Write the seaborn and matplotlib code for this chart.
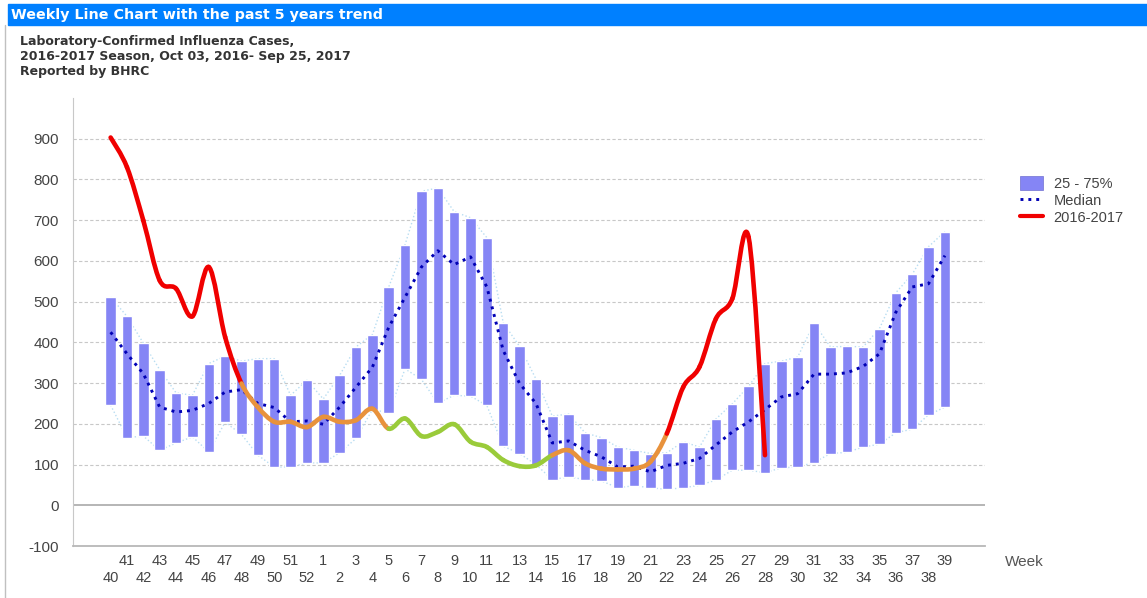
import numpy as np
import matplotlib
matplotlib.use("Agg")
import matplotlib.pyplot as plt
import seaborn as sns
from matplotlib.path import Path
from matplotlib.patches import PathPatch, Patch, Rectangle
from matplotlib.lines import Line2D

# weeks of the 2016-2017 season
weeks = list(range(40, 53)) + list(range(1, 40))

# 25% / 75% of the past 5 seasons
q25 = [246, 166, 170, 135, 153, 168, 131, 204, 174, 123, 94, 94, 104,
       104, 129, 164, 235, 227, 335, 309, 251, 270, 268, 245, 145, 127, 100,
       63, 70, 63, 60, 43, 48, 43, 39, 43, 49, 62, 86, 86, 80, 92, 94, 105,
       127, 130, 143, 150, 178, 187, 222, 241]
q75 = [511, 464, 398, 333, 276, 270, 348, 366, 354, 360, 360, 270, 307,
       261, 319, 389, 419, 536, 640, 771, 779, 721, 706, 657, 448, 390, 310,
       219, 224, 178, 166, 143, 135, 127, 129, 156, 143, 212, 249, 292, 348,
       354, 364, 447, 389, 390, 389, 434, 522, 567, 635, 672]
median = [425, 372, 323, 241, 229, 233, 250, 278, 284, 250, 240, 205, 207,
          199, 241, 290, 339, 437, 511, 585, 625, 591, 610, 536, 380, 299, 250,
          153, 158, 135, 119, 94, 96, 82, 98, 103, 115, 148, 180, 205, 235,
          266, 274, 322, 322, 325, 341, 372, 474, 536, 544, 613]
# current season, week 40 .. week 28
season = [903, 830, 699, 552, 532, 464, 585, 413, 299, 241, 205, 205, 192,
          217, 205, 209, 237, 188, 213, 170, 180, 199, 156, 143, 111, 96, 98,
          123, 135, 103, 90, 88, 90, 107, 176, 290, 340, 458, 507, 658, 123]

RED, ORANGE, GREEN = "#F00000", "#E8923C", "#9ACB3A"
BAR = "#8585F5"

sns.set_style("white")
plt.rcParams["font.family"] = ["Liberation Sans", "DejaVu Sans"]
plt.rcParams["axes.unicode_minus"] = False

fig = plt.figure(figsize=(11.47, 5.98), dpi=100)
ax = fig.add_axes([73 / 1147, 1 - 546 / 598, (985 - 73) / 1147, (546 - 98) / 598])

idx = np.arange(len(weeks))
q25a, q75a = np.array(q25), np.array(q75)

# faint outlines joining the bar ends
sns.lineplot(x=idx, y=q75a, ax=ax, color="#B8DDF2", lw=1, ls=":", zorder=1)
sns.lineplot(x=idx, y=q25a, ax=ax, color="#B8DDF2", lw=1, ls=":", zorder=1)

ax.bar(idx, q75a - q25a, bottom=q25a, width=0.64, color=BAR, zorder=2)

sns.lineplot(x=idx, y=median, ax=ax, color="#0000B4", lw=2.1,
             ls=(0, (1, 1.7)), zorder=3)

# season line, smooth pieces coloured against the 25-75% band
pts = np.column_stack([np.arange(len(season)), season]).astype(float)
n = len(pts)
for i in range(n - 1):
    p_prev = pts[max(i - 1, 0)]
    p_next = pts[min(i + 2, n - 1)]
    c1 = pts[i] + (pts[i + 1] - p_prev) / 6
    c2 = pts[i + 1] - (p_next - pts[i]) / 6
    v = season[i]
    if v > q75[i]:
        col = RED
    elif v < q25[i]:
        col = GREEN
    else:
        col = ORANGE
    path = Path([pts[i], c1, c2, pts[i + 1]],
                [Path.MOVETO, Path.CURVE4, Path.CURVE4, Path.CURVE4])
    ax.add_patch(PathPatch(path, fill=False, edgecolor=col, lw=3.3,
                           capstyle="round", joinstyle="round", zorder=4))

ax.set_xlim(-2.3, 53.45)
ax.set_ylim(-100, 1000)
ax.set_yticks(range(-100, 1000, 100))
ax.tick_params(axis="y", length=0, pad=10, labelsize=11, labelcolor="#444444")
ax.set_xticks(idx)
ax.set_xticklabels([str(w) if i % 2 else "\n" + str(w) for i, w in enumerate(weeks)],
                   linespacing=1.25)
ax.tick_params(axis="x", length=0, pad=6, labelsize=10.5, labelcolor="#444444")

for y in range(100, 1000, 100):
    ax.axhline(y, color="#C8C8C8", lw=0.8, ls=(0, (3, 2)), zorder=0)
ax.axhline(0, color="#B0B0B0", lw=1.3, zorder=0)

for s in ["top", "right"]:
    ax.spines[s].set_visible(False)
ax.spines["left"].set_color("#C8C8C8")
ax.spines["bottom"].set_color("#B8B8B8")
ax.spines["bottom"].set_linewidth(1.3)

fig.text(1005 / 1147, 1 - 562 / 598, "Week", fontsize=11, color="#555555", va="center")

handles = [Patch(facecolor=BAR, edgecolor="#7070D0", lw=0.5),
           Line2D([], [], color="#0000B4", lw=2.1, ls=(0, (1, 1.7))),
           Line2D([], [], color=RED, lw=3)]
fig.legend(handles, ["25 - 75%", "Median", "2016-2017"], loc="upper left",
           bbox_to_anchor=(1007 / 1147, 1 - 163 / 598), frameon=False,
           fontsize=10.5, labelcolor="#444444", handlelength=1.6,
           handleheight=1.1, labelspacing=0.15, handletextpad=0.7)

# header bar and subtitle
fig.patches.append(Rectangle((8 / 1147, 1 - 25 / 598), 1, 21 / 598,
                             transform=fig.transFigure, color="#0080FF", zorder=0))
fig.add_artist(Line2D([5 / 1147, 5 / 1147], [0, 1 - 25 / 598], color="#C0C0C0", lw=1))
fig.text(11 / 1147, 1 - 15 / 598, "Weekly Line Chart with the past 5 years trend",
         fontsize=10.3, fontweight="bold", color="white", va="center",
         family=["DejaVu Sans"])
for k, line in enumerate(["Laboratory-Confirmed Influenza Cases,",
                          "2016-2017 Season, Oct 03, 2016- Sep 25, 2017",
                          "Reported by BHRC"]):
    fig.text(20 / 1147, 1 - (41 + 15.5 * k) / 598, line, fontsize=9,
             fontweight="bold", color="#333333", va="center", family=["DejaVu Sans"])

fig.savefig("out.png", dpi=100)
